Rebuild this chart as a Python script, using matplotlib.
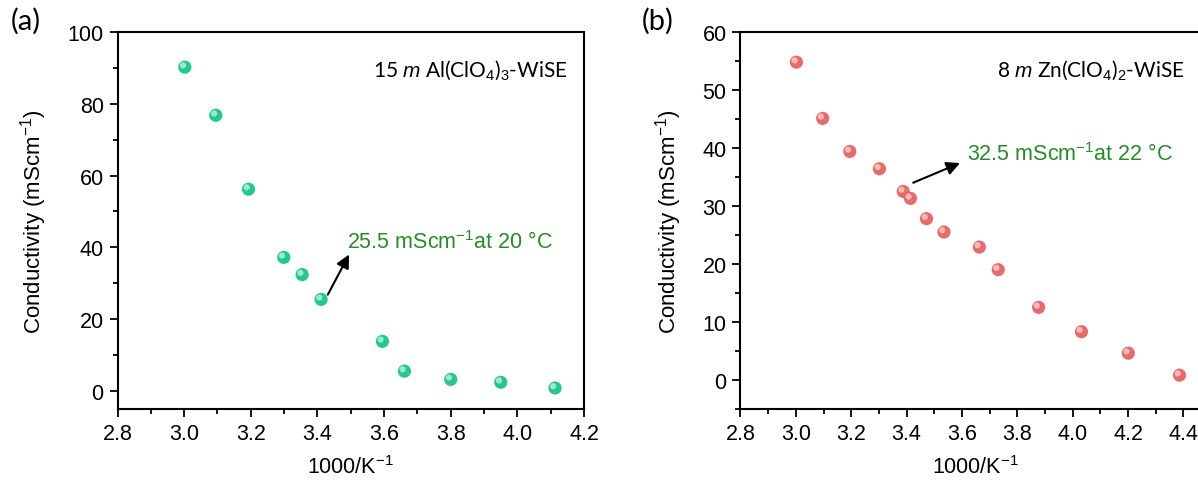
import matplotlib
matplotlib.use("Agg")
import matplotlib.pyplot as plt
import matplotlib.transforms as mtransforms
from matplotlib.ticker import MultipleLocator, AutoMinorLocator, FormatStrFormatter

# Inverse temperature (1000/K) and ionic conductivity (mS/cm)
al_inv_t = [3.002, 3.095, 3.193, 3.299, 3.354, 3.411, 3.595, 3.661, 3.800, 3.950, 4.113]
al_cond = [90.2, 76.8, 56.2, 37.2, 32.4, 25.5, 13.8, 5.5, 3.2, 2.4, 0.8]

zn_inv_t = [3.002, 3.097, 3.195, 3.302, 3.388, 3.414, 3.472, 3.535, 3.663, 3.731,
            3.877, 4.032, 4.201, 4.386]
zn_cond = [54.8, 45.1, 39.4, 36.4, 32.5, 31.3, 27.8, 25.5, 22.9, 19.0,
           12.5, 8.3, 4.6, 0.8]

al_label = r"15 $\it{m}$ Al(ClO$_4$)$_3$-WiSE"
zn_label = r"8 $\it{m}$ Zn(ClO$_4$)$_2$-WiSE"
al_note = "25.5 mScm$^{-1}$at 20 \u00b0C"
zn_note = "32.5 mScm$^{-1}$at 22 \u00b0C"

plt.rcParams["font.family"] = ["Liberation Sans", "DejaVu Sans"]
plt.rcParams["mathtext.fontset"] = "custom"
plt.rcParams["mathtext.rm"] = "Liberation Sans"
plt.rcParams["mathtext.it"] = "Liberation Sans:italic"

fig = plt.figure(figsize=(11.98, 4.81), dpi=100)
ax_a = fig.add_axes([0.0981, 0.148, 0.3894, 0.7834])
ax_b = fig.add_axes([0.6181, 0.148, 0.3928, 0.7834])

note_green = "#268c26"
label_size = 15.5


def ball_scatter(ax, x, y, color, light):
    ax.scatter(x, y, s=90, color=color, edgecolors="none", zorder=3)
    shift = mtransforms.ScaledTranslation(-1.3 / 72, 1.3 / 72, fig.dpi_scale_trans)
    ax.scatter(x, y, s=20, color=light, edgecolors="none", alpha=0.75,
               zorder=4, transform=ax.transData + shift)


def style_axes(ax, xmax, ymin, ymax, ystep):
    ax.set_xlim(2.8, xmax)
    ax.set_ylim(ymin, ymax)
    ax.xaxis.set_major_locator(MultipleLocator(0.2))
    ax.xaxis.set_minor_locator(AutoMinorLocator(2))
    ax.xaxis.set_major_formatter(FormatStrFormatter("%.1f"))
    ax.yaxis.set_major_locator(MultipleLocator(ystep))
    ax.yaxis.set_minor_locator(AutoMinorLocator(2))
    ax.tick_params(which="major", direction="out", length=6, width=1.3,
                   labelsize=label_size, top=False, right=False, pad=4)
    ax.tick_params(which="minor", direction="out", length=3.5, width=1.3,
                   top=False, right=False)
    for sp in ax.spines.values():
        sp.set_linewidth(1.5)
    ax.set_xlabel("1000/K$^{-1}$", fontsize=label_size, labelpad=8)
    ax.set_ylabel("Conductivity (mScm$^{-1}$)", fontsize=16, labelpad=13)


# (a) aluminium perchlorate
ball_scatter(ax_a, al_inv_t, al_cond, "#22c88e", "#c8f5e4")
style_axes(ax_a, 4.2, -5, 100, 20)
ax_a.text(4.152, 89.5, al_label, ha="right", va="center", fontsize=15,
          family=["Lato", "DejaVu Sans"])
ax_a.annotate("", xy=(3.495, 38.0), xytext=(3.431, 26.8),
              arrowprops=dict(arrowstyle="-|>", color="black", lw=1.5,
                              mutation_scale=20, shrinkA=0, shrinkB=0))
ax_a.text(3.489, 41.7, al_note, color=note_green, fontsize=15.5,
          ha="left", va="center")

# (b) zinc perchlorate
ball_scatter(ax_b, zn_inv_t, zn_cond, "#e86a6a", "#fbd6d6")
style_axes(ax_b, 4.5, -5, 60, 10)
ax_b.text(4.406, 53.5, zn_label, ha="right", va="center", fontsize=15,
          family=["Lato", "DejaVu Sans"])
ax_b.annotate("", xy=(3.593, 37.4), xytext=(3.424, 34.0),
              arrowprops=dict(arrowstyle="-|>", color="black", lw=1.5,
                              mutation_scale=20, shrinkA=0, shrinkB=0))
ax_b.text(3.618, 39.0, zn_note, color=note_green, fontsize=15.5,
          ha="left", va="center")

fig.text(0.009, 0.955, "(a)", fontsize=21, family=["Lato", "DejaVu Sans"],
         ha="left", va="center")
fig.text(0.536, 0.955, "(b)", fontsize=21, family=["Lato", "DejaVu Sans"],
         ha="left", va="center")

fig.savefig("out.png", dpi=100)
